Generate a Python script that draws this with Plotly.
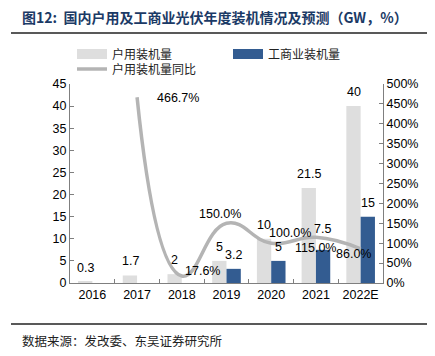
import plotly.graph_objects as go

years = ["2016", "2017", "2018", "2019", "2020", "2021", "2022E"]
household = [0.3, 1.7, 2, 5, 10, 21.5, 40]
commercial = [None, None, None, 3.2, 5, 7.5, 15]
yoy_years = ["2017", "2018", "2019", "2020", "2021", "2022E"]
yoy = [466.7, 17.6, 150.0, 100.0, 115.0, 86.0]

# the page body has an 8px default margin, so the figure is drawn 8px in from the
# window's top-left corner; all reference pixel positions are compensated for that.
OFF = 8
W, H = 435 - OFF, 356 - OFF
L, R, T, B = 70 - OFF, 60 - OFF, 84 - OFF, 73
PW, PH = W - L - R, H - T - B

def px(x):  # reference window pixel -> paper x
    return (x - OFF - L) / PW

def py(y):  # reference window pixel -> paper y
    return 1 - (y - OFF - T) / PH

GRAY = "#dedede"
BLUE = "#335c91"
LINE = "#b4b4b4"
num_font = dict(family="Liberation Sans, Arial", size=12.5, color="#000000")
leg_font = dict(family="Noto Sans CJK SC", size=12, color="#222222")

fig = go.Figure()
fig.add_trace(go.Bar(x=years, y=household, name="户用装机量", marker_color=GRAY,
                     marker_line_width=0, yaxis="y", showlegend=False))
fig.add_trace(go.Bar(x=years, y=commercial, name="工商业装机量", marker_color=BLUE,
                     marker_line_width=0, yaxis="y", showlegend=False))
fig.add_trace(go.Scatter(x=yoy_years, y=yoy, name="户用装机量同比", mode="lines",
                         line=dict(color=LINE, width=3.5, shape="spline", smoothing=1.3),
                         yaxis="y2", legend="legend3"))
# legend swatches for the bar series (wide rectangles as in the reference)
fig.add_trace(go.Scatter(x=[None], y=[None], name="户用装机量", mode="lines",
                         line=dict(color=GRAY, width=10), legend="legend"))
fig.add_trace(go.Scatter(x=[None], y=[None], name="工商业装机量", mode="lines",
                         line=dict(color=BLUE, width=10), legend="legend2"))

ann = []
for i, v in enumerate(household):
    ann.append(dict(x=i, y=v, xref="x", yref="y", text=f"{v:g}", showarrow=False,
                    xshift=-7, yshift=14, font=num_font))
c_shift = {"2021": 21}
for i, (yr, v) in enumerate(zip(years, commercial)):
    if v is None:
        continue
    ann.append(dict(x=i, y=v, xref="x", yref="y", text=f"{v:g}", showarrow=False,
                    xshift=7, yshift=c_shift.get(yr, 14), font=num_font))
offs = {"2017": (41, -1), "2018": (21, 5), "2019": (-7, 9), "2020": (19, 10),
        "2021": (0, -11), "2022E": (-7, -5)}
for yr, v in zip(yoy_years, yoy):
    dx, dy = offs[yr]
    ann.append(dict(x=years.index(yr), y=v, xref="x", yref="y2", text=f"{v:.1f}%",
                    showarrow=False, xshift=dx, yshift=dy, font=num_font))

ann.append(dict(x=px(20), y=py(16.5), xref="paper", yref="paper", xanchor="left", yanchor="middle",
                text="<b>图12:  国内户用及工商业光伏年度装机情况及预测（GW，%）</b>", showarrow=False,
                font=dict(family="Noto Sans CJK SC", size=14, color="#1b3a66")))
ann.append(dict(x=px(20), y=py(340), xref="paper", yref="paper", xanchor="left", yanchor="middle",
                text="数据来源：发改委、东吴证券研究所", showarrow=False,
                font=dict(family="Noto Sans CJK SC", size=12.5, color="#222222")))

shapes = [
    dict(type="line", xref="paper", yref="paper", x0=px(11), x1=px(435), y0=py(33), y1=py(33),
         line=dict(color="#222222", width=1.5)),
    dict(type="line", xref="paper", yref="paper", x0=px(11), x1=px(435), y0=py(324), y1=py(324),
         line=dict(color="#222222", width=1.5)),
]

axis_common = dict(showline=True, linecolor="#7f7f7f", linewidth=1, ticks="inside",
                   ticklen=4, tickcolor="#7f7f7f", showgrid=False, zeroline=False,
                   automargin=False,
                   tickfont=dict(family="Liberation Sans, Arial", size=12.5, color="#000000"))

def leg(xp, yp):
    return dict(x=px(xp), xanchor="left", y=py(yp), yanchor="middle", font=leg_font,
                bgcolor="rgba(0,0,0,0)", itemwidth=30, borderwidth=0)

fig.update_layout(
    width=W, height=H, margin=dict(l=L, r=R, t=T, b=B, autoexpand=False),
    paper_bgcolor="white", plot_bgcolor="white",
    barmode="group", bargap=0.36, bargroupgap=0,
    xaxis=dict(**axis_common, tickson="boundaries", type="category",
               categoryorder="array", categoryarray=years, range=[-0.5, 6.5], tickangle=0),
    yaxis=dict(**axis_common, range=[0, 45], dtick=5),
    yaxis2=dict(**axis_common, range=[0, 500], dtick=50, ticksuffix="%", overlaying="y",
                side="right"),
    legend=leg(72, 54), legend2=leg(228, 54), legend3=leg(72, 69),
    annotations=ann, shapes=shapes, showlegend=True,
)

fig.write_html("out.html")
